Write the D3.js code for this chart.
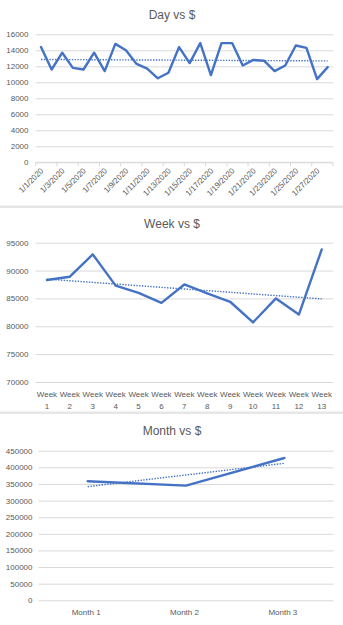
<!DOCTYPE html>
<html>
<head>
<meta charset="utf-8">
<script src="https://cdn.jsdelivr.net/npm/d3@7"></script>
<style>
  html, body { margin: 0; padding: 0; background: #fff; }
  svg { display: block; }
  text { font-family: "Liberation Sans", Arial, sans-serif; fill: #595959; }
</style>
</head>
<body>
<svg id="chart" width="343" height="625"></svg>
<script>
// ---- Data ----
const dayLabels = ["1/1/2020","1/2/2020","1/3/2020","1/4/2020","1/5/2020","1/6/2020","1/7/2020",
  "1/8/2020","1/9/2020","1/10/2020","1/11/2020","1/12/2020","1/13/2020","1/14/2020",
  "1/15/2020","1/16/2020","1/17/2020","1/18/2020","1/19/2020","1/20/2020","1/21/2020",
  "1/22/2020","1/23/2020","1/24/2020","1/25/2020","1/26/2020","1/27/2020","1/28/2020"];
const dayValues = [14400, 11600, 13700, 11800, 11600, 13700, 11400, 14800, 14000, 12300,
  11700, 10500, 11200, 14400, 12400, 14900, 10900, 14900, 14900, 12100,
  12800, 12700, 11400, 12100, 14600, 14300, 10400, 11900];
const dayTicks = [0, 2000, 4000, 6000, 8000, 10000, 12000, 14000, 16000];

const weekLabels = ["Week 1","Week 2","Week 3","Week 4","Week 5","Week 6","Week 7",
  "Week 8","Week 9","Week 10","Week 11","Week 12","Week 13"];
const weekValues = [88300, 88900, 92900, 87300, 86000, 84200, 87500, 85900, 84400, 80700, 85000, 82100, 93800];
const weekTicks = [70000, 75000, 80000, 85000, 90000, 95000];

const monthLabels = ["Month 1", "Month 2", "Month 3"];
const monthValues = [358000, 345000, 428000];
const monthTicks = [0, 50000, 100000, 150000, 200000, 250000, 300000, 350000, 400000, 450000];

const titles = ["Day vs $", "Week vs $", "Month vs $"];

// ---- Helpers ----
const svg = d3.select("#chart");
const BLUE = "#4472C4";
const GRID = "#d9d9d9";
const fmt = d3.format("d");

function regression(vals) {
  const n = vals.length;
  const xs = vals.map((v, i) => i + 1);
  const mx = d3.mean(xs), my = d3.mean(vals);
  let num = 0, den = 0;
  xs.forEach((x, i) => { num += (x - mx) * (vals[i] - my); den += (x - mx) * (x - mx); });
  const b = num / den, a = my - b * mx;
  return xs.map(x => a + b * x);
}

function drawChart(cfg) {
  const g = svg.append("g");
  const x = d3.scaleBand().domain(cfg.labels).range(cfg.xRange).padding(0);
  const y = d3.scaleLinear().domain(cfg.yDomain).range(cfg.yRange);

  // title
  g.append("text").attr("x", 172).attr("y", cfg.titleY)
    .attr("text-anchor", "middle").style("font-size", "12px").text(cfg.title);

  // gridlines
  const grid = g.append("g").attr("transform", `translate(${cfg.xRange[0]},0)`)
    .call(d3.axisLeft(y).tickValues(cfg.ticks).tickSize(-(cfg.xRange[1] - cfg.xRange[0])).tickFormat(""));
  grid.select(".domain").remove();
  grid.selectAll("line").attr("stroke", GRID).attr("stroke-width", 1);

  // y labels
  const ya = g.append("g").attr("transform", `translate(${cfg.yLabelX},0)`)
    .call(d3.axisLeft(y).tickValues(cfg.ticks).tickSize(0).tickPadding(0).tickFormat(fmt));
  ya.select(".domain").remove();
  ya.selectAll("text").style("font-size", "8px").attr("fill", "#595959")
    .style("font-family", "'Liberation Sans', Arial, sans-serif");

  // trend line (dotted)
  const trend = regression(cfg.values);
  const line = d3.line().x((d, i) => x(cfg.labels[i]) + x.bandwidth() / 2).y(d => y(d));
  g.append("path").datum(trend).attr("d", line).attr("fill", "none")
    .attr("stroke", BLUE).attr("stroke-width", 1.4).attr("stroke-dasharray", "1.4,1.4");

  // data line
  g.append("path").datum(cfg.values).attr("d", line).attr("fill", "none")
    .attr("stroke", BLUE).attr("stroke-width", 2.4).attr("stroke-linejoin", "round")
    .attr("stroke-linecap", "round");

  return { g, x, y };
}

// ---- Chart 1: Day ----
{
  const { g, x, y } = drawChart({
    title: titles[0], titleY: 19, labels: dayLabels, values: dayValues,
    xRange: [35.7, 333], yDomain: [0, 16000], yRange: [162.3, 34.3],
    ticks: dayTicks, yLabelX: 28.5
  });
  const axisY = y(0);
  g.append("line").attr("x1", 35.7).attr("x2", 333).attr("y1", axisY).attr("y2", axisY)
    .attr("stroke", GRID);
  // tick marks at category boundaries every 2 categories
  const bounds = dayLabels.filter((d, i) => i % 2 === 0).map(d => x(d)).concat([x.range()[1]]);
  g.selectAll(".tk").data(bounds).enter().append("line")
    .attr("x1", d => d).attr("x2", d => d).attr("y1", axisY).attr("y2", axisY + 4)
    .attr("stroke", GRID);
  const shown = dayLabels.filter((d, i) => i % 2 === 0);
  g.selectAll(".dl").data(shown).enter().append("text")
    .attr("text-anchor", "end")
    .attr("transform", d => `translate(${x(d) + x.bandwidth() / 2 + 3},${axisY + 9}) rotate(-45)`)
    .style("font-size", "8px").text(d => d);
}

// separator
svg.append("rect").attr("x", 0).attr("y", 205.5).attr("width", 343).attr("height", 2.5).attr("fill", "#e6e6e6");

// ---- Chart 2: Week ----
{
  const { g, x, y } = drawChart({
    title: titles[1], titleY: 227.5, labels: weekLabels, values: weekValues,
    xRange: [35.5, 333.2], yDomain: [70000, 95000], yRange: [382, 242.7],
    ticks: weekTicks, yLabelX: 28.5
  });
  const lab = g.selectAll(".wl").data(weekLabels).enter().append("text")
    .attr("text-anchor", "middle").style("font-size", "8px");
  lab.append("tspan").attr("x", d => x(d) + x.bandwidth() / 2).attr("y", 397).text(d => d.split(" ")[0]);
  lab.append("tspan").attr("x", d => x(d) + x.bandwidth() / 2).attr("y", 408.5).text(d => d.split(" ")[1]);
}

svg.append("rect").attr("x", 0).attr("y", 411.5).attr("width", 343).attr("height", 2.5).attr("fill", "#e6e6e6");

// ---- Chart 3: Month ----
{
  const { g, x, y } = drawChart({
    title: titles[2], titleY: 435, labels: monthLabels, values: monthValues,
    xRange: [38.5, 333.5], yDomain: [0, 450000], yRange: [600.3, 450.7],
    ticks: monthTicks, yLabelX: 32.5
  });
  g.selectAll(".ml").data(monthLabels).enter().append("text")
    .attr("text-anchor", "middle").attr("x", d => x(d) + x.bandwidth() / 2 - 1.5).attr("y", 615)
    .style("font-size", "8px").text(d => d);
}
</script>
</body>
</html>
